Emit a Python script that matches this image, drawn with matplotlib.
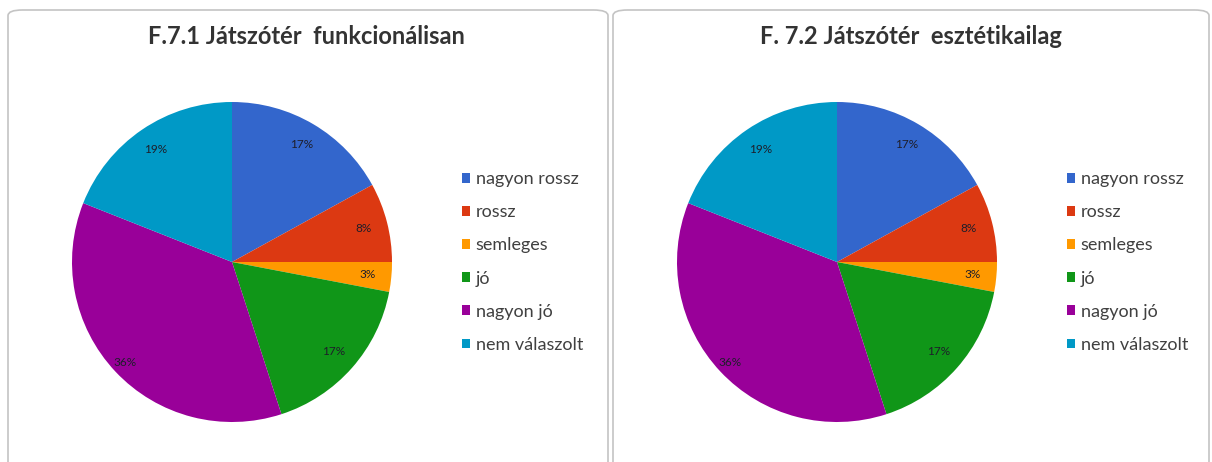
import matplotlib
matplotlib.use("Agg")
import matplotlib.pyplot as plt
from matplotlib.patches import FancyBboxPatch

plt.rcParams['font.family'] = ['Lato', 'DejaVu Sans']

categories = ['nagyon rossz', 'rossz', 'semleges', 'jó', 'nagyon jó', 'nem válaszolt']
func_values = [17, 8, 3, 17, 36, 19]
aest_values = [17, 8, 3, 17, 36, 19]
titles = ['F.7.1 Játszótér  funkcionálisan', 'F. 7.2 Játszótér  esztétikailag']
colors = ['#3366CC', '#DC3912', '#FF9900', '#109618', '#990099', '#0099C6']

W, H = 1212, 462
fig = plt.figure(figsize=(W / 100, H / 100), dpi=100)

# panel frames (pixels)
panels = [(8, 608), (613, 1209)]
for x0, x1 in panels:
    box = FancyBboxPatch((x0 / W, -8 / H), (x1 - x0) / W, (H - 10 + 8) / H,
                         boxstyle="round,pad=0,rounding_size=0.012",
                         transform=fig.transFigure, facecolor='none',
                         edgecolor='#c4c4c4', linewidth=1.2, clip_on=False)
    fig.patches.append(box)

def draw(values, title, x0):
    cx, cy, r = x0 + 224, 262, 160
    ax = fig.add_axes([(cx - r) / W, (H - cy - r) / H, 2 * r / W, 2 * r / H])
    wedges, texts, autotexts = ax.pie(
        values, colors=colors, startangle=90, counterclock=False,
        autopct=lambda p: '%d%%' % round(p), pctdistance=0.85,
        textprops=dict(fontsize=8.5, color='#1e1e2a'),
        wedgeprops=dict(linewidth=0))
    ax.set_xlim(-1, 1)
    ax.set_ylim(-1, 1)
    ax.set_aspect('auto')
    autotexts[4].set_position((autotexts[4].get_position()[0] * 1.08,
                               autotexts[4].get_position()[1] * 1.08))
    fig.text((x0 + 298) / W, (H - 37) / H, title, ha='center', va='center',
             fontsize=17, fontweight='bold', color='#333333')
    fig.legend(wedges, categories, loc='center left',
               bbox_to_anchor=((x0 + 454) / W, (H - 262) / H),
               frameon=False, fontsize=13, labelcolor='#404040',
               handlelength=0.45, handleheight=0.45, handletextpad=0.3,
               labelspacing=0.95, borderpad=0, borderaxespad=0)

draw(func_values, titles[0], panels[0][0])
draw(aest_values, titles[1], panels[1][0])

fig.savefig('out.png', dpi=100, facecolor='white')
